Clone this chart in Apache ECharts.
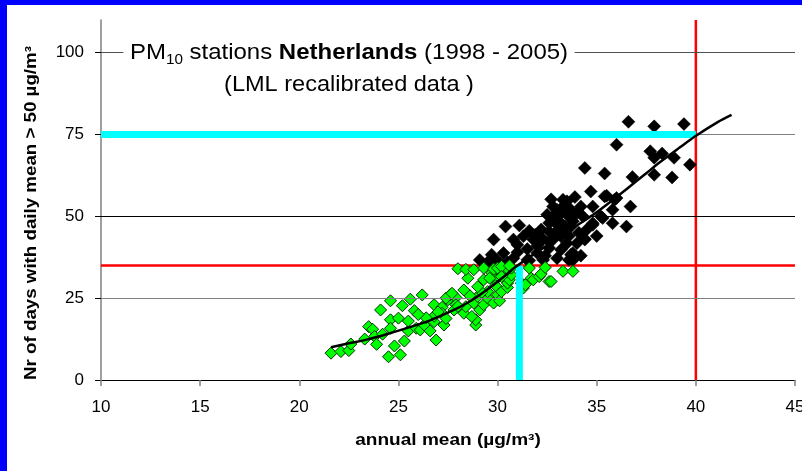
<!DOCTYPE html>
<html><head><meta charset="utf-8">
<script src="https://cdn.jsdelivr.net/npm/echarts@6/dist/echarts.min.js"></script>
<style>
html,body{margin:0;padding:0;background:#fff;}
#c{position:absolute;left:0;top:0;width:802px;height:471px;}
.bt{position:absolute;left:0;top:0;width:802px;height:5px;background:#0000ff;z-index:10}
.bl{position:absolute;left:0;top:0;width:7px;height:471px;background:#0000ff;z-index:10}
</style></head><body>
<div id="c"></div><div class="bt"></div><div class="bl"></div>
<script>
const xTicks = [10, 15, 20, 25, 30, 35, 40, 45];
const yTicks = [0, 25, 50, 75, 100];
const yMax = 110;
const limitAnnual = 40;     // EU annual limit
const limitDays = 35;       // allowed exceedance days
const targetDays = 75;
const equivAnnual = 31.1;   // annual mean equivalent to 35 days

const greenPoints = [
[21.6,8.2],[22.1,8.7],[22.5,9.0],[22.6,11.0],[23.5,16.3],[23.7,15.5],[24.1,21.4],[24.6,24.2],[23.8,13.3],[23.9,10.9],
[24.5,7.1],[25.1,7.7],[24.8,10.4],[25.3,11.9],[24.6,18.4],[25.0,18.9],[24.6,15.8],[25.2,22.7],[25.6,24.7],[25.8,21.2],
[26.2,26.0],[25.5,15.0],[25.9,15.8],[26.1,15.3],[26.3,16.8],[26.6,15.0],[26.8,17.8],[26.9,12.2],[26.8,23.0],[27.2,22.2],
[27.3,16.8],[27.5,24.5],[27.6,26.0],[27.9,25.2],[27.4,25.0],[27.7,26.5],[27.9,23.0],[28.3,20.4],[28.4,22.4],[28.8,23.5],
[28.9,16.8],[28.9,18.4],[29.1,21.4],[29.3,23.0],[29.5,25.0],[29.0,25.5],[29.5,27.0],[29.8,23.5],[30.0,26.0],[30.1,24.2],
[30.2,27.0],[30.5,28.3],[30.5,29.6],[30.6,30.6],[30.7,32.1],[30.7,34.2],[30.5,33.7],[30.2,32.1],[29.9,30.6],[29.7,32.7],
[29.3,30.6],[28.5,31.1],[28.0,34.0],[28.4,33.8],[28.8,33.7],[29.3,34.2],[29.8,33.9],[30.0,34.2],[30.2,34.7],[30.6,34.9],
[29.6,31.1],[30.2,31.6],[31.3,28.1],[31.2,29.6],[31.4,29.1],[31.6,34.2],[31.7,31.1],[31.8,30.6],[32.1,31.6],[32.2,32.4],
[32.4,34.4],[32.6,30.1],[32.7,30.1],[33.3,33.2],[33.8,33.2],[27.2,20.4],[27.8,21.4],[28.7,19.4],[26.8,19.5],[27.0,20.8],
[26.4,19.0],[25.5,18.0],[28.0,22.5],[28.6,25.8],[29.2,26.8],[29.9,28.8],[28.3,27.5],[29.0,28.5],[27.4,18.8],[26.0,20.0],
[24.2,14.0],[23.3,12.5]
];

const blackPoints = [
[29.1,36.7],[29.7,38.3],[29.8,42.9],[30.3,38.8],[30.4,46.9],[30.8,37.2],[30.8,42.9],[31.0,41.3],[31.1,47.2],[31.3,43.9],
[31.5,36.7],[31.6,45.6],[31.8,42.9],[31.9,44.4],[32.0,38.8],[32.3,36.7],[32.6,45.4],[32.6,42.3],[32.6,40.3],[32.6,48.0],
[32.7,55.2],[32.8,53.0],[32.8,42.9],[32.8,50.0],[33.0,37.2],[33.0,49.0],[33.0,52.0],[33.2,43.9],[33.2,39.8],[33.2,51.0],
[33.2,47.9],[33.3,55.1],[33.3,53.0],[33.3,45.9],[33.5,50.5],[33.5,41.8],[33.5,54.6],[33.6,36.7],[33.7,46.9],[33.7,38.3],
[33.7,52.0],[33.8,36.7],[33.8,38.8],[33.9,55.9],[34.0,41.8],[34.2,53.0],[34.3,50.0],[34.4,42.9],[34.4,43.1],[34.4,64.8],
[34.7,57.6],[34.8,47.4],[34.8,53.0],[34.8,47.9],[35.2,50.0],[35.3,49.5],[35.4,63.1],[35.4,56.1],[35.5,56.3],[35.8,52.0],
[35.8,47.9],[35.9,55.1],[36.0,55.6],[36.0,71.9],[36.5,46.9],[36.6,78.9],[36.7,53.0],[36.8,62.0],[37.7,69.9],[37.9,67.9],
[37.9,62.7],[37.9,77.5],[38.3,69.2],[38.8,61.9],[38.9,67.9],[39.4,78.2],[39.7,65.8],
[29.5,36.0],[30.0,36.5],[30.5,36.0],[31.0,39.0],[31.5,40.0],[32.0,41.0],[32.3,43.0],[32.9,45.0],[33.4,47.0],[33.8,48.5],
[34.1,45.0],[34.5,46.0],[34.2,38.0],[35.0,44.0],[31.6,36.5],[32.4,38.0],[33.6,44.0],[34.0,51.0],[32.5,50.5],[33.0,47.5],
[32.2,46.0]
];

const trendX = [21.6,22.5,23.5,24.4,25.5,26.5,27.8,28.6,29.45,30.2,30.9,31.8,32.8,33.8,34.8,35.7,36.7,37.5,38.2,39.2,39.95,41.1,41.8];
const trendY = [10.0,11.2,12.5,14.0,16.0,18.0,21.4,24.0,27.5,31.0,34.5,38.3,42.4,46.4,50.4,54.5,59.3,63.2,66.6,71.1,74.4,78.8,81.0];

const gridColors = ['#808080', '#000000', '#808080', '#505050'];
const FONT = '"Liberation Sans", Arial, sans-serif';

const chart = echarts.init(document.getElementById('c'), null, {renderer: 'canvas'});

function seg(a, b) { return [a, b]; }

chart.setOption({
  animation: false,
  backgroundColor: '#ffffff',
  grid: {left: 101, right: 7, top: 20, bottom: 91, containLabel: false, outerBoundsMode: 'none'},
  xAxis: {
    type: 'value', min: xTicks[0], max: xTicks[xTicks.length - 1], interval: 5,
    axisLine: {show: true, lineStyle: {color: '#000', width: 1}},
    axisTick: {show: true, length: 6, inside: false, lineStyle: {color: '#808080', width: 1.5}},
    axisLabel: {fontSize: 17, color: '#000', fontFamily: FONT, margin: 19, hideOverlap: false},
    splitLine: {show: false}
  },
  yAxis: {
    type: 'value', min: 0, max: yMax, interval: 25,
    axisLine: {show: true, lineStyle: {color: '#808080', width: 1.5}},
    axisTick: {show: true, length: 6, inside: false, customValues: yTicks, lineStyle: {color: '#000', width: 1}},
    axisLabel: {fontSize: 17, color: '#000', fontFamily: FONT, margin: 17, customValues: yTicks,
      formatter: v => (yTicks.indexOf(v) >= 0 ? String(v) : '')},
    splitLine: {show: false}
  },
  graphic: [
    {type: 'text', x: 349, y: 53, z: 100, scaleX: 1.09,
     style: {
       text: '{n|PM}{s|10}{n| stations }{b|Netherlands}{n| (1998 - 2005)}',
       align: 'center', verticalAlign: 'middle',
       backgroundColor: '#fff', padding: [0, 6],
       rich: {
         n: {fontSize: 22, fontFamily: FONT, fill: '#000', color: '#000'},
         b: {fontSize: 22, fontFamily: FONT, fontWeight: 'bold', fill: '#000', color: '#000'},
         s: {fontSize: 14, fontFamily: FONT, fill: '#000', color: '#000', padding: [14, 0, 0, 0]}
       }
     }},
    {type: 'text', x: 349, y: 85, z: 100, scaleX: 1.07,
     style: {text: '(LML recalibrated data )', align: 'center', verticalAlign: 'middle',
       fontSize: 22, fontFamily: FONT, fill: '#000'}},
    {type: 'text', x: 32, y: 213, rotation: Math.PI / 2, z: 100, scaleX: 1.17,
     style: {text: 'Nr of days with daily mean > 50 µg/m³', align: 'center', verticalAlign: 'middle',
       fontSize: 16, fontWeight: 'bold', fontFamily: FONT, fill: '#000'}},
    {type: 'text', x: 448, y: 441, z: 100, scaleX: 1.19,
     style: {text: 'annual mean (µg/m³)', align: 'center', verticalAlign: 'middle',
       fontSize: 16, fontWeight: 'bold', fontFamily: FONT, fill: '#000'}}
  ],
  series: [
    {type: 'line', name: 'grid', data: [], z: 1, silent: true, symbol: 'none',
     markLine: {silent: true, symbol: 'none', label: {show: false}, animation: false,
       data: yTicks.slice(1).map((v, i) => ({yAxis: v, lineStyle: {color: gridColors[i], width: 1.2, type: 'solid'}}))}},
    {type: 'line', name: 'limitV', data: seg([limitAnnual, 0], [limitAnnual, yMax]), symbol: 'none', z: 2, silent: true,
     lineStyle: {color: '#ff0000', width: 2.5}},
    {type: 'line', name: 'limitH', data: seg([xTicks[0], limitDays], [xTicks[xTicks.length - 1], limitDays]), symbol: 'none', z: 2, silent: true,
     lineStyle: {color: '#ff0000', width: 2.5}},
    {type: 'scatter', name: 'black', data: blackPoints, symbol: 'diamond', symbolSize: 13, z: 3,
     itemStyle: {color: '#000', borderColor: '#000', borderWidth: 0.5, opacity: 1}},
    {type: 'scatter', name: 'green', data: greenPoints, symbol: 'diamond', symbolSize: 12, z: 4,
     itemStyle: {color: '#00ff00', borderColor: '#003000', borderWidth: 1, opacity: 1}},
    {type: 'line', name: 'targetH', data: seg([xTicks[0], targetDays], [limitAnnual, targetDays]), symbol: 'none', z: 5, silent: true,
     lineStyle: {color: '#00ffff', width: 7}},
    {type: 'line', name: 'equivV', data: seg([equivAnnual, 0], [equivAnnual, limitDays]), symbol: 'none', z: 5, silent: true,
     lineStyle: {color: '#00ffff', width: 7}},
    {type: 'line', name: 'trend', data: trendX.map((x, i) => [x, trendY[i]]), symbol: 'none', smooth: 0.3, z: 6, silent: true,
     lineStyle: {color: '#000', width: 2.5}}
  ]
});
</script>
</body></html>
